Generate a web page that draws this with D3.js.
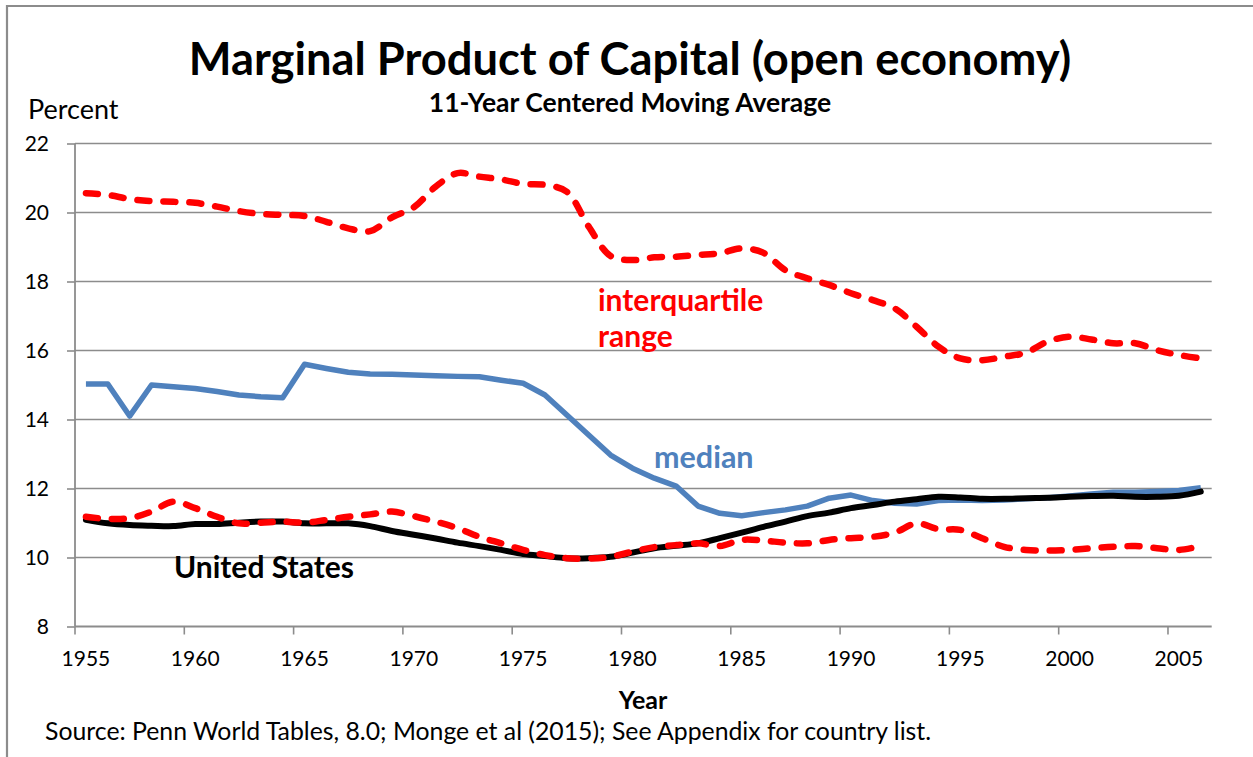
<!DOCTYPE html>
<html>
<head>
<meta charset="utf-8">
<script src="https://cdn.jsdelivr.net/npm/d3@7"></script>
<style>
  html, body { margin: 0; padding: 0; background: #fff; }
  svg { display: block; }
  text { font-family: Lato, "Open Sans", sans-serif; }
</style>
</head>
<body>
<svg id="chart" width="1253" height="757"></svg>
<script>
const years = [1955,1956,1957,1958,1959,1960,1961,1962,1963,1964,
  1965,1966,1967,1968,1969,1970,1971,1972,1973,1974,
  1975,1976,1977,1978,1979,1980,1981,1982,1983,1984,
  1985,1986,1987,1988,1989,1990,1991,1992,1993,1994,
  1995,1996,1997,1998,1999,2000,2001,2002,2003,2004,
  2005,2006];

const median = [15.03,15.03,14.10,15.00,14.95,14.90,14.81,14.71,14.66,14.63,
  15.60,15.48,15.37,15.32,15.31,15.29,15.27,15.25,15.24,15.14,
  15.05,14.71,14.13,13.55,12.97,12.59,12.30,12.07,11.49,11.28,
  11.21,11.30,11.38,11.49,11.72,11.81,11.65,11.57,11.55,11.65,
  11.67,11.65,11.67,11.70,11.73,11.78,11.84,11.89,11.89,11.91,
  11.94,12.02];

const unitedStates = [11.09,10.99,10.94,10.92,10.91,10.97,10.97,11.01,11.04,11.04,
  10.99,10.99,10.99,10.91,10.77,10.66,10.55,10.43,10.33,10.22,
  10.10,10.04,9.98,9.98,10.02,10.14,10.27,10.34,10.41,10.56,
  10.72,10.89,11.04,11.20,11.30,11.43,11.52,11.62,11.69,11.76,
  11.74,11.70,11.70,11.72,11.73,11.76,11.78,11.79,11.76,11.76,
  11.79,11.91];

const iqrUpper = [20.56,20.51,20.39,20.33,20.31,20.28,20.17,20.04,19.96,19.93,
  19.90,19.73,19.54,19.46,19.86,20.15,20.75,21.14,21.04,20.96,
  20.83,20.80,20.60,19.59,18.74,18.62,18.70,18.72,18.77,18.82,
  18.96,18.83,18.33,18.09,17.90,17.66,17.46,17.22,16.69,16.11,
  15.77,15.72,15.82,15.94,16.26,16.40,16.32,16.21,16.21,16.01,
  15.87,15.77];

const iqrLower = [11.18,11.12,11.14,11.33,11.62,11.43,11.18,10.99,11.01,11.04,
  11.01,11.09,11.18,11.25,11.33,11.20,11.04,10.85,10.60,10.41,
  10.22,10.07,9.98,9.97,10.02,10.17,10.30,10.36,10.41,10.33,
  10.51,10.49,10.43,10.41,10.51,10.56,10.60,10.72,10.99,10.82,
  10.80,10.56,10.31,10.22,10.20,10.22,10.27,10.31,10.33,10.27,
  10.22,10.33];

const yTicks = [8,10,12,14,16,18,20,22];
const xTickLabels = [1955,1960,1965,1970,1975,1980,1985,1990,1995,2000,2005];

const svg = d3.select("#chart");
const W = 1253, H = 757;
const plot = { left: 75, right: 1211.7, top: 143.5, bottom: 626.5 };
const gridColor = "#8c8c8c";

svg.append("rect").attr("width", W).attr("height", H).attr("fill", "#fff");

// outer frame (top and left edges visible)
svg.append("path")
  .attr("d", `M7,${H} L7,6 L${W},6`)
  .attr("fill", "none").attr("stroke", "#8c8c8c").attr("stroke-width", 2.2);

const x = d3.scaleBand().domain(years).range([plot.left, plot.right]).padding(0);
const cx = d => x(d) + x.bandwidth() / 2;
const y = d3.scaleLinear().domain([8, 22]).range([plot.bottom, plot.top]);

// gridlines
svg.append("g").selectAll("line").data(yTicks.filter(t => t > 8)).join("line")
  .attr("x1", plot.left).attr("x2", plot.right)
  .attr("y1", d => y(d)).attr("y2", d => y(d))
  .attr("stroke", gridColor).attr("stroke-width", 1.6);

// y axis
const yAxis = svg.append("g").attr("transform", `translate(${plot.left},0)`)
  .call(d3.axisLeft(y).tickValues(yTicks).tickSize(8).tickPadding(18).tickFormat(d3.format("d")));
yAxis.select(".domain").attr("stroke", gridColor).attr("stroke-width", 1.8).attr("d", `M0,${plot.top}V${plot.bottom}`);
yAxis.selectAll(".tick line").attr("stroke", gridColor).attr("stroke-width", 1.6);
yAxis.selectAll(".tick text").attr("font-size", 21).attr("fill", "#000")
  .attr("font-family", "Lato, sans-serif");

// x axis line
svg.append("line").attr("x1", plot.left).attr("x2", plot.right)
  .attr("y1", plot.bottom).attr("y2", plot.bottom)
  .attr("stroke", gridColor).attr("stroke-width", 1.8);

// x tick marks at category boundaries every 5 years
const tickYears = years.filter((d, i) => i % 5 === 0);
svg.append("g").selectAll("line").data(tickYears).join("line")
  .attr("x1", d => x(d)).attr("x2", d => x(d))
  .attr("y1", plot.bottom).attr("y2", plot.bottom + 8)
  .attr("stroke", gridColor).attr("stroke-width", 1.6);

// x labels
const xAxis = svg.append("g").attr("transform", `translate(0,${plot.bottom})`)
  .call(d3.axisBottom(x).tickValues(xTickLabels).tickSize(0).tickPadding(25).tickFormat(d3.format("d")));
xAxis.select(".domain").remove();
xAxis.selectAll(".tick text").attr("font-size", 21).attr("fill", "#000")
  .attr("font-family", "Lato, sans-serif");

// lines
const lineStraight = d3.line().x((d, i) => cx(years[i])).y(d => y(d));
const lineSmooth = d3.line().x((d, i) => cx(years[i])).y(d => y(d)).curve(d3.curveCatmullRom.alpha(0.5));

svg.append("path").datum(median).attr("d", lineStraight)
  .attr("fill", "none").attr("stroke", "#4F81BD").attr("stroke-width", 5.5)
  .attr("stroke-linejoin", "round");

svg.append("path").datum(unitedStates).attr("d", lineSmooth)
  .attr("fill", "none").attr("stroke", "#000").attr("stroke-width", 6)
  .attr("stroke-linejoin", "round").attr("stroke-linecap", "round");

[iqrUpper, iqrLower].forEach(s => {
  svg.append("path").datum(s).attr("d", lineSmooth)
    .attr("fill", "none").attr("stroke", "#FF0000").attr("stroke-width", 6.5)
    .attr("stroke-dasharray", "12 14").attr("stroke-linecap", "round")
    .attr("stroke-linejoin", "round");
});

// titles
svg.append("text").attr("x", 630).attr("y", 75).attr("text-anchor", "middle")
  .attr("font-size", 45.3).attr("font-weight", "bold").attr("fill", "#000")
  .text("Marginal Product of Capital (open economy)");
svg.append("text").attr("x", 630).attr("y", 112).attr("text-anchor", "middle")
  .attr("font-size", 26.5).attr("font-weight", "bold").attr("fill", "#000")
  .text("11-Year Centered Moving Average");
svg.append("text").attr("x", 28).attr("y", 119)
  .attr("font-size", 27).attr("fill", "#000").text("Percent");
svg.append("text").attr("x", 643).attr("y", 709).attr("text-anchor", "middle")
  .attr("font-size", 25).attr("font-weight", "bold").attr("fill", "#000").text("Year");
svg.append("text").attr("x", 45).attr("y", 740)
  .attr("font-size", 24.8).attr("fill", "#000")
  .text("Source: Penn World Tables, 8.0; Monge et al (2015); See Appendix for country list.");

// series annotations
svg.append("text").attr("x", 598).attr("y", 311)
  .attr("font-size", 30).attr("font-weight", "bold").attr("fill", "#FF0000").text("interquartile");
svg.append("text").attr("x", 598).attr("y", 347)
  .attr("font-size", 30).attr("font-weight", "bold").attr("fill", "#FF0000").text("range");
svg.append("text").attr("x", 654).attr("y", 468)
  .attr("font-size", 30.5).attr("font-weight", "bold").attr("fill", "#4F81BD").text("median");
svg.append("text").attr("x", 174).attr("y", 578)
  .attr("font-size", 30).attr("font-weight", "bold").attr("fill", "#000").text("United States");
</script>
</body>
</html>
